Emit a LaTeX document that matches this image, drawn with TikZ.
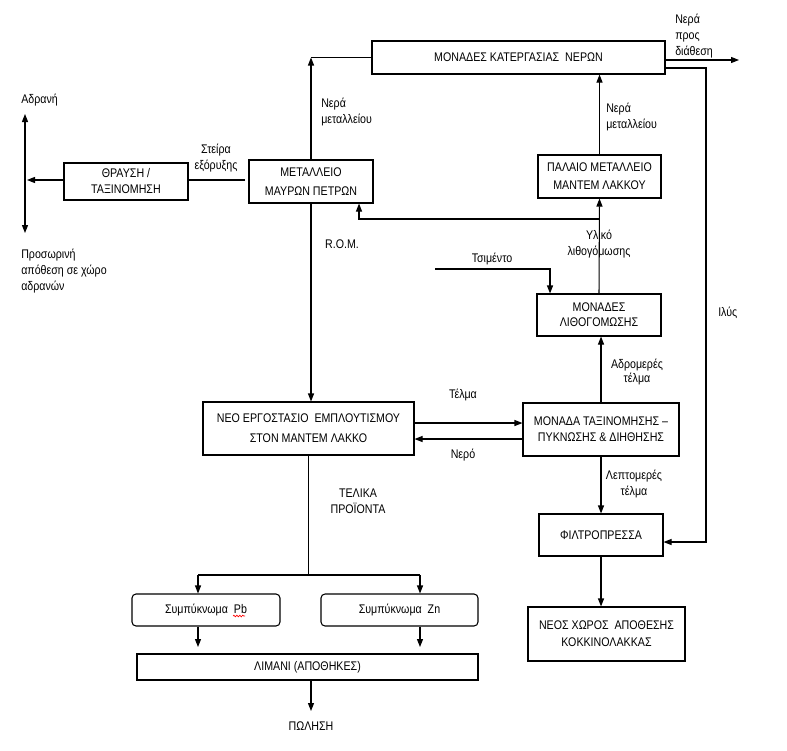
\documentclass[tikz,border=0pt]{standalone}
\usepackage{fontspec}
\setmainfont{Liberation Sans}[FakeStretch=0.85]
\usetikzlibrary{arrows.meta,decorations.pathmorphing}
\begin{document}
\begin{tikzpicture}[x=0.75pt,y=-0.75pt,
  every node/.style={font=\fontsize{9.4}{12}\selectfont, align=center, inner sep=0pt},
  box/.style={draw, line width=0.8pt, inner sep=0pt},
  rbox/.style={box, rounded corners=3pt},
  arr/.style={draw, line width=0.8pt, -{Triangle[length=6pt,width=4.5pt]}},
  dbl/.style={draw, line width=0.8pt, {Triangle[length=6pt,width=4.5pt]}-{Triangle[length=6pt,width=4.5pt]}},
  ln/.style={draw, line width=0.8pt},
  tight/.style={font=\fontsize{9.4}{10.5}\selectfont}]
\useasboundingbox (0,0) rectangle (787,750);

% boxes
\node[box, minimum width=219.75pt, minimum height=24.75pt] (kat) at (518.5,57.5) {ΜΟΝΑΔΕΣ ΚΑΤΕΡΓΑΣΙΑΣ\ \ ΝΕΡΩΝ};
\node[box, minimum width=93pt, minimum height=27.75pt] (thr) at (126,181.5) {ΘΡΑΥΣΗ /\\ΤΑΞΙΝΟΜΗΣΗ};
\node[box, minimum width=93pt, minimum height=32.25pt] (met) at (311,181.5) {ΜΕΤΑΛΛΕΙΟ\\[2.25pt]ΜΑΥΡΩΝ ΠΕΤΡΩΝ};
\node[box, minimum width=92.25pt, minimum height=32.25pt] (pal) at (599.5,176.5) {ΠΑΛΑΙΟ ΜΕΤΑΛΛΕΙΟ\\[1.5pt]ΜΑΝΤΕΜ ΛΑΚΚΟΥ};
\node[box, minimum width=93pt, minimum height=31.5pt, font=\fontsize{9.4}{11.25}\selectfont] (lith) at (599,315) {ΜΟΝΑΔΕΣ\\ΛΙΘΟΓΟΜΩΣΗΣ};
\node[box, minimum width=158.25pt, minimum height=39.75pt] (neo) at (308.5,428.5) {ΝΕΟ ΕΡΓΟΣΤΑΣΙΟ\ \ ΕΜΠΛΟΥΤΙΣΜΟΥ\\[3pt]ΣΤΟΝ ΜΑΝΤΕΜ ΛΑΚΚΟ};
\node[box, minimum width=117pt, minimum height=39.75pt] (tax) at (601,429.5) {ΜΟΝΑΔΑ ΤΑΞΙΝΟΜΗΣΗΣ –\\ΠΥΚΝΩΣΗΣ \& ΔΙΗΘΗΣΗΣ};
\node[box, minimum width=93pt, minimum height=31.5pt] (fil) at (601,535) {ΦΙΛΤΡΟΠΡΕΣΣΑ};
\node[box, minimum width=117.75pt, minimum height=40.5pt] (nxo) at (606.5,634) {ΝΕΟΣ ΧΩΡΟΣ\ \ ΑΠΟΘΕΣΗΣ\\[0.75pt]ΚΟΚΚΙΝΟΛΑΚΚΑΣ};
\node[rbox, minimum width=111pt, minimum height=24pt] (pb) at (206,610) {Συμπύκνωμα\ \ Pb};
\node[rbox, minimum width=117.75pt, minimum height=24pt] (zn) at (399.5,610) {Συμπύκνωμα\ \ Zn};
\node[box, minimum width=255.75pt, minimum height=19.5pt] (lim) at (307.5,667) {ΛΙΜΑΝΙ (ΑΠΟΘΗΚΕΣ)};

% labels
\node[anchor=west, align=left] (l1) at (321,111.5) {Νερά\\μεταλλείου};
\node (l2) at (216,158) {Στείρα\\εξόρυξης};
\node[anchor=west] (l3) at (21,100) {Αδρανή};
\node[anchor=west, align=left] (l4) at (21,271) {Προσωρινή\\απόθεση σε χώρο\\αδρανών};
\node (l5) at (342,244) {R.O.M.};
\node[anchor=west, align=left] (l6) at (675,36.5) {Νερά\\προς\\διάθεση};
\node[anchor=west, align=left] (l7) at (606,117) {Νερά\\μεταλλείου};
\node (l8) at (599,244.5) {Υλικό\\λιθογόμωσης};
\node (l9) at (492,259) {Τσιμέντο};
\node[anchor=west] (l10) at (718,313) {Ιλύς};
\node[tight] (l11) at (637,371.5) {Αδρομερές\\τέλμα};
\node (l12) at (463,395) {Τέλμα};
\node (l13) at (463,455) {Νερό};
\node (l14) at (634,483.5) {Λεπτομερές\\τέλμα};
\node (l15) at (358,501) {ΤΕΛΙΚΑ\\ΠΡΟΪΟΝΤΑ};
\node (l16) at (311,726) {ΠΩΛΗΣΗ};

% coordinates
\coordinate (out) at (739,60);
\coordinate (ilA) at (706,68);
\coordinate (ilB) at (706,542);
\coordinate (lb) at (359,219);
\coordinate (ts) at (435,269);
\coordinate (tsb) at (550,269);
\coordinate (tl) at (0,423);
\coordinate (nr) at (0,439);
\coordinate (sp) at (308,575);
\coordinate (spl) at (198,575);
\coordinate (spr) at (420,575);
\coordinate (pbA) at (198,647);
\coordinate (znA) at (420,647);
\coordinate (sell) at (311,711);
\coordinate (st) at (245,180);
\coordinate (ag) at (27,180);
\coordinate (vt) at (25,114);
\coordinate (vb) at (25,233);

% connectors
\draw[arr] (met.north) -- (met.north |- kat.west);
\draw[ln] (met.north |- kat.west) -- (kat.west);
\draw[arr] (kat.east |- out) -- (out);
\draw[arr] (kat.east |- ilA) -- (ilA) -- (ilB) -- (fil.east |- ilB);
\draw[arr] (pal.north) -- (pal.north |- kat.south);
\draw[arr] (lith.north) -- (pal.south);
\draw[arr] (pal.south |- lb) -- (lb) -- (lb |- met.south);
\draw[arr] (ts) -- (tsb) -- (tsb |- lith.north);
\draw[arr] (tax.north) -- (tax.north |- lith.south);
\draw[arr] (tax.south) -- (tax.south |- fil.north);
\draw[arr] (fil.south) -- (fil.south |- nxo.north);
\draw[arr] (neo.east |- tl) -- (tax.west |- tl);
\draw[arr] (tax.west |- nr) -- (neo.east |- nr);
\draw[arr] (met.south) -- (met.south |- neo.north);
\draw[ln] (neo.south) -- (neo.south |- sp);
\draw[ln] (spl) -- (spr);
\draw[arr] (spl) -- (spl |- pb.north);
\draw[arr] (spr) -- (spr |- zn.north);
\draw[arr] (spl |- pb.south) -- (pbA);
\draw[arr] (spr |- zn.south) -- (znA);
\draw[arr] (lim.south -| sell) -- (sell);
\draw[ln] (st) -- (thr.east |- st);
\draw[arr] (thr.west |- ag) -- (ag);
\draw[dbl] (vt) -- (vb);

% spell-check squiggle under Pb
\draw[red, line width=0.5pt, decorate, decoration={snake, amplitude=0.6pt, segment length=2.2pt}] (233,616) -- (245,616);
\end{tikzpicture}
\end{document}
